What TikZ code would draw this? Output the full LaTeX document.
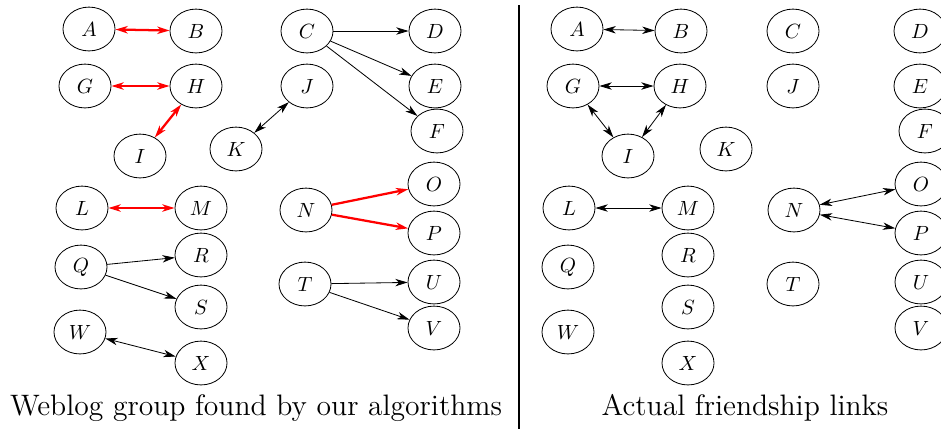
\documentclass[tikz,border=0pt]{standalone}
\usetikzlibrary{shapes.geometric,arrows.meta}

\tikzstyle{blog} = [ellipse, draw, minimum width=0.89cm, minimum height=0.75cm, inner sep=0pt]
\tikzstyle{arrow} = [draw, -{Stealth[length=6pt, width=3.6pt, inset=1.8pt]}]
\tikzstyle{link} = [draw, {Stealth[length=6pt, width=3.6pt, inset=1.8pt]}-{Stealth[length=6pt, width=3.6pt, inset=1.8pt]}]
\tikzstyle{found} = [red, line width=1.1pt]
\tikzstyle{caption} = [font=\Large]

\begin{document}
\begin{tikzpicture}[x=0.0171cm, y=-0.0171cm]
    \useasboundingbox (0,0) rectangle (941,429);

    % groups found
    \node[blog] (A) at (89,29) {$A$};
    \node[blog] (B) at (196,31) {$B$};
    \node[blog] (G) at (85,86) {$G$};
    \node[blog] (H) at (196,86) {$H$};
    \node[blog] (I) at (140,156) {$I$};
    \node[blog] (C) at (307,31) {$C$};
    \node[blog] (D) at (435,31) {$D$};
    \node[blog] (J) at (307,86) {$J$};
    \node[blog] (E) at (435,86) {$E$};
    \node[blog] (F) at (437,131) {$F$};
    \node[blog] (K) at (236,149) {$K$};
    \node[blog] (L) at (82,208) {$L$};
    \node[blog] (M) at (201,208) {$M$};
    \node[blog] (N) at (306,210) {$N$};
    \node[blog] (O) at (434,184) {$O$};
    \node[blog] (P) at (434,233) {$P$};
    \node[blog] (Q) at (81,267) {$Q$};
    \node[blog] (R) at (201,255) {$R$};
    \node[blog] (S) at (201,307) {$S$};
    \node[blog] (T) at (305,284) {$T$};
    \node[blog] (U) at (434,282) {$U$};
    \node[blog] (V) at (434,328) {$V$};
    \node[blog] (W) at (80,332) {$W$};
    \node[blog] (X) at (201,363) {$X$};

    % lines
    \draw [link, found] (A) to (B);
    \draw [link, found] (G) to (H);
    \draw [link, found] (H) to (I);
    \draw [link, found] (L) to (M);
    \draw [arrow, found] (N) to (O);
    \draw [arrow, found] (N) to (P);
    \draw [arrow] (C) to (D);
    \draw [arrow] (C) to (E);
    \draw [arrow] (C) to (F);
    \draw [link] (K) to (J);
    \draw [arrow] (Q) to (R);
    \draw [arrow] (Q) to (S);
    \draw [arrow] (T) to (U);
    \draw [arrow] (T) to (V);
    \draw [link] (W) to (X);

    % actual links
    \node[blog] (rA) at (577,29) {$A$};
    \node[blog] (rB) at (681,31) {$B$};
    \node[blog] (rC) at (793,31) {$C$};
    \node[blog] (rD) at (920,31) {$D$};
    \node[blog] (rG) at (573,86) {$G$};
    \node[blog] (rH) at (680,86) {$H$};
    \node[blog] (rJ) at (793,86) {$J$};
    \node[blog] (rE) at (920,86) {$E$};
    \node[blog] (rF) at (925,131) {$F$};
    \node[blog] (rI) at (628,156) {$I$};
    \node[blog] (rK) at (726,149) {$K$};
    \node[blog] (rL) at (569,208) {$L$};
    \node[blog] (rM) at (688,208) {$M$};
    \node[blog] (rN) at (794,210) {$N$};
    \node[blog] (rO) at (921,184) {$O$};
    \node[blog] (rP) at (921,233) {$P$};
    \node[blog] (rQ) at (568,267) {$Q$};
    \node[blog] (rR) at (688,255) {$R$};
    \node[blog] (rS) at (688,307) {$S$};
    \node[blog] (rT) at (793,284) {$T$};
    \node[blog] (rU) at (921,282) {$U$};
    \node[blog] (rV) at (921,328) {$V$};
    \node[blog] (rW) at (568,332) {$W$};
    \node[blog] (rX) at (688,363) {$X$};

    \draw [link] (rA) to (rB);
    \draw [link] (rG) to (rH);
    \draw [link] (rG) to (rI);
    \draw [link] (rH) to (rI);
    \draw [link] (rL) to (rM);
    \draw [link] (rN) to (rO);
    \draw [link] (rN) to (rP);

    % captions and divider
    \node[caption] (found) at (256,408) {Weblog group found by our algorithms};
    \node[caption] (actual) at (745,408) {Actual friendship links};
    \coordinate (top) at (519,5);
    \coordinate (bottom) at (519,429);
    \draw[line width=0.8pt] (top) -- (bottom);
\end{tikzpicture}
\end{document}
